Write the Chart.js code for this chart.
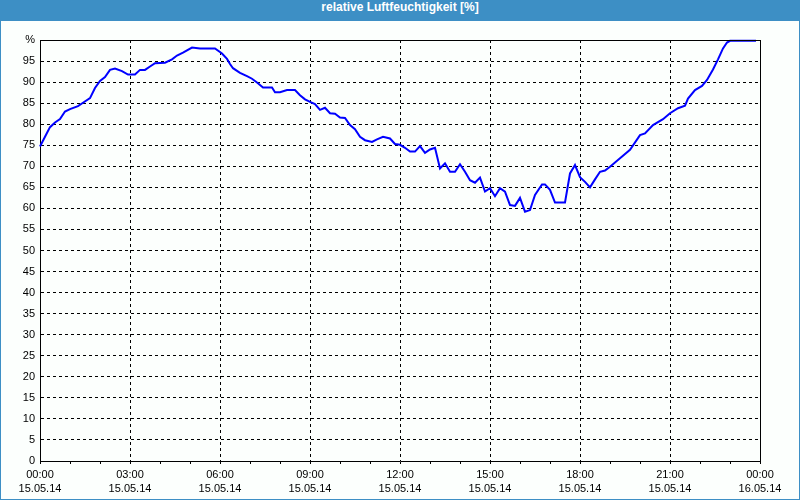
<!DOCTYPE html>
<html>
<head>
<meta charset="utf-8">
<script src="https://cdn.jsdelivr.net/npm/chart.js@4/dist/chart.umd.min.js"></script>
<style>
    body { margin: 0; background: #fff; }
    #wrap { position: relative; width: 800px; height: 500px; background: #fcfffd; }
    #chart { position: absolute; left: 0; top: 0; }
    #title {
        position: absolute; left: 0; top: 0; width: 800px; height: 21px;
        background: #3d8fc5; color: #fff; text-align: center; line-height: 21px;
        font: bold 12px 'Liberation Sans', Arial, sans-serif;
    }
    #frame {
        position: absolute; left: 0; top: 0; width: 798px; height: 499px;
        border: 1px solid #3d8fc5; border-top: none; pointer-events: none;
    }
</style>
</head>
<body>
<div id="wrap">
    <canvas id="chart" width="800" height="500"></canvas>
    <div id="title">relative Luftfeuchtigkeit [%]</div>
    <div id="frame"></div>
</div>
<script>
// --- Data (minutes since 15.05.14 00:00, relative humidity in %) ---
const minutes = [0, 10, 20, 30, 40, 50, 60, 76, 86, 100,
    110, 120, 130, 140, 150, 164, 176, 190, 200, 210,
    220, 230, 250, 264, 274, 286, 304, 320, 350, 364,
    374, 380, 386, 400, 414, 424, 434, 446, 464, 470,
    480, 494, 510, 520, 530, 540, 550, 560, 570, 580,
    590, 600, 610, 620, 630, 640, 650, 664, 674, 686,
    700, 710, 720, 730, 740, 750, 760, 770, 780, 790,
    800, 810, 820, 830, 840, 850, 860, 870, 880, 890,
    900, 910, 920, 930, 940, 950, 960, 970, 980, 990,
    1004, 1010, 1020, 1030, 1050, 1060, 1070, 1080, 1090, 1100,
    1110, 1120, 1130, 1140, 1160, 1180, 1200, 1210, 1226, 1246,
    1260, 1276, 1290, 1296, 1310, 1324, 1334, 1346, 1356, 1366,
    1374, 1380, 1432];
const humidity = [74.7, 77.0, 79.3, 80.4, 81.2, 83.0, 83.6, 84.3, 85.1, 86.2,
    88.6, 90.3, 91.2, 92.9, 93.2, 92.6, 91.8, 91.8, 92.9, 92.9,
    93.7, 94.5, 94.6, 95.4, 96.3, 97.0, 98.2, 98.0, 98.0, 96.8,
    95.5, 94.3, 93.3, 92.2, 91.4, 90.8, 89.9, 88.7, 88.7, 87.6,
    87.6, 88.1, 88.1, 86.9, 85.9, 85.3, 84.8, 83.4, 83.9, 82.6,
    82.5, 81.6, 81.5, 79.8, 78.8, 77.0, 76.2, 75.8, 76.4, 77.0,
    76.6, 75.3, 75.1, 74.4, 73.5, 73.5, 74.8, 73.2, 74.0, 74.4,
    69.5, 70.7, 68.7, 68.7, 70.5, 68.7, 66.7, 66.1, 67.3, 64.0,
    64.8, 62.9, 64.8, 64.0, 60.8, 60.6, 62.5, 59.2, 59.6, 63.2,
    65.7, 65.7, 64.4, 61.4, 61.4, 68.3, 70.3, 67.4, 66.3, 65.0,
    66.9, 68.7, 69.0, 69.9, 71.9, 73.9, 77.4, 77.8, 79.8, 81.2,
    82.6, 83.8, 84.4, 86.1, 88.1, 89.1, 90.5, 93.0, 95.4, 98.0,
    99.4, 99.8, 99.8];
const timeLabels = ['00:00', '03:00', '06:00', '09:00', '12:00', '15:00', '18:00', '21:00', '00:00'];
const dateLabels = ['15.05.14', '15.05.14', '15.05.14', '15.05.14', '15.05.14', '15.05.14', '15.05.14', '15.05.14', '16.05.14'];

document.addEventListener('DOMContentLoaded', () => {
    const font = { family: "'Liberation Sans', Arial, sans-serif", size: 11 };

    // solid frame on top and right of the plot
    const plotFrame = {
        id: 'plotFrame',
        afterDraw(chart) {
            const { ctx, chartArea: a } = chart;
            ctx.save();
            ctx.strokeStyle = '#000';
            ctx.lineWidth = 1;
            ctx.beginPath();
            ctx.moveTo(Math.round(a.left) + 0.5, Math.round(a.top) + 0.5);
            ctx.lineTo(Math.round(a.right) + 0.5, Math.round(a.top) + 0.5);
            ctx.lineTo(Math.round(a.right) + 0.5, Math.round(a.bottom) + 0.5);
            ctx.stroke();
            ctx.restore();
        }
    };

    new Chart(document.getElementById('chart').getContext('2d'), {
        type: 'line',
        data: {
            datasets: [{
                data: minutes.map((m, i) => ({ x: m, y: humidity[i] })),
                borderColor: '#0000ff',
                borderWidth: 2,
                pointRadius: 0,
                tension: 0,
                fill: false,
                clip: 3
            }]
        },
        options: {
            responsive: false,
            animation: false,
            layout: { padding: { top: 40, right: 40, left: 0, bottom: 0 } },
            plugins: { legend: { display: false }, tooltip: { enabled: false } },
            scales: {
                x: {
                    type: 'linear',
                    min: 0,
                    max: 1440,
                    afterFit: s => { s.height = 39; },
                    ticks: {
                        stepSize: 60,
                        autoSkip: false,
                        maxRotation: 0,
                        padding: 3,
                        color: '#000',
                        font: { ...font, lineHeight: 1.36 },
                        callback: v => {
                            if (v % 180 !== 0) return '';
                            const i = v / 180;
                            return [timeLabels[i], dateLabels[i]];
                        }
                    },
                    grid: {
                        color: c => (c.tick && c.tick.value % 180 === 0) ? '#000' : 'rgba(0,0,0,0)',
                        tickColor: '#000',
                        tickLength: 3,
                        lineWidth: 1
                    },
                    border: { color: '#000', width: 1, dash: [3, 3] }
                },
                y: {
                    min: 0,
                    max: 100,
                    afterFit: s => { s.width = 40; },
                    ticks: {
                        stepSize: 5,
                        padding: 5,
                        color: '#000',
                        font: font,
                        callback: v => v === 100 ? '%' : v
                    },
                    grid: { color: '#000', lineWidth: 1, drawTicks: false },
                    border: { color: '#000', width: 1, dash: [3, 3] }
                }
            }
        },
        plugins: [plotFrame]
    });
});
</script>
</body>
</html>
